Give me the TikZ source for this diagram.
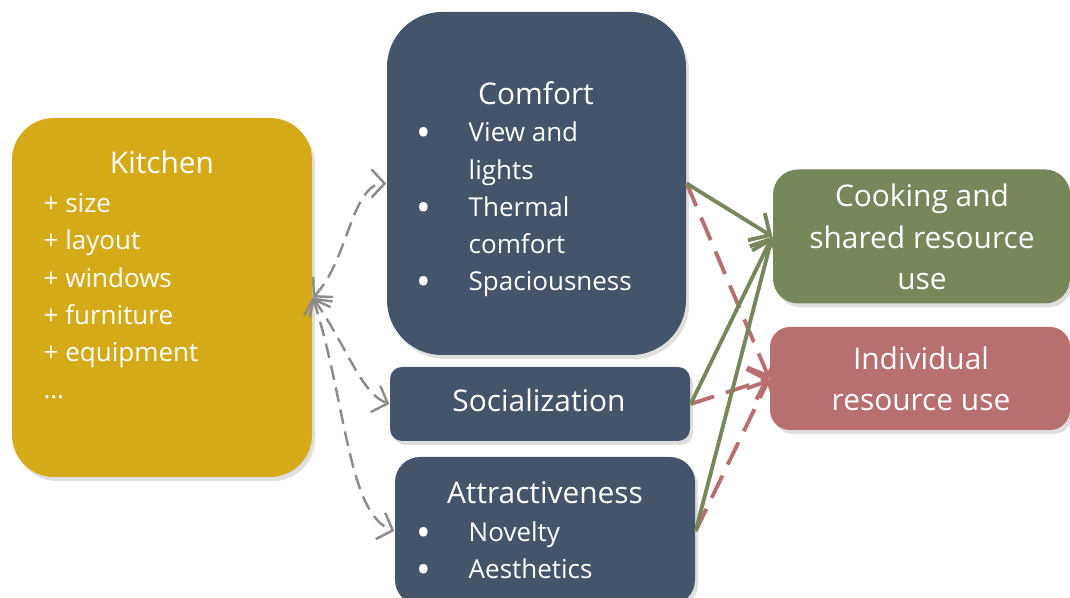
\documentclass[tikz,border=0pt]{standalone}
\usepackage{fontspec}
\setmainfont{Open Sans}
\usetikzlibrary{arrows.meta,shadows}
\definecolor{kitchengold}{RGB}{213,170,24}
\definecolor{slateblue}{RGB}{68,84,106}
\definecolor{olivegreen}{RGB}{118,135,90}
\definecolor{rosered}{RGB}{184,112,110}
\definecolor{dashgray}{RGB}{140,140,140}
\newcommand{\headsize}{\fontsize{8.5}{11.9}\selectfont}
\newcommand{\itemsize}{\fontsize{7.4}{10.6}\selectfont}
\newcommand{\bul}{\makebox[0.50cm][l]{\hspace*{-0.02cm}\raisebox{-0.35ex}{\scalebox{1.5}{\textbullet}}}}
\newcommand{\nobul}{\hspace*{0.50cm}}
\tikzset{
  panel/.style={rectangle, rounded corners=#1, inner sep=0pt,
    drop shadow={shadow xshift=0.03cm, shadow yshift=-0.04cm, opacity=0.25}},
  heading/.style={text=white, font=\headsize, inner sep=0pt, align=center},
  items/.style={text=white, font=\itemsize, inner sep=0pt, align=left},
  link/.style={dashgray, line width=0.7pt, dash pattern=on 4.2pt off 2.2pt,
    {Straight Barb[length=1.3mm,width=2.8mm]}-{Straight Barb[length=1.3mm,width=2.8mm]}},
  shared/.style={olivegreen, line width=1.1pt, -{Straight Barb[length=1.6mm,width=3.2mm]}},
  single/.style={rosered, line width=1.1pt, dash pattern=on 7pt off 3.5pt,
    -{Straight Barb[length=1.6mm,width=3.2mm]}}
}
\begin{document}
\begin{tikzpicture}
  \useasboundingbox (0,0) rectangle (10.70,5.98);
  % boxes
  \node[panel=0.42cm, fill=kitchengold, minimum width=3.00cm, minimum height=3.59cm] (kitchen) at (1.62,3.005) {};
  \node[panel=0.55cm, fill=slateblue, minimum width=2.99cm, minimum height=3.43cm] (comfort) at (5.365,4.145) {};
  \node[panel=0.12cm, fill=slateblue, minimum width=3.00cm, minimum height=0.74cm] (social) at (5.40,1.94) {};
  \node[panel=0.25cm, fill=slateblue, minimum width=3.00cm, minimum height=1.48cm] (attract) at (5.45,0.67) {};
  \node[panel=0.25cm, fill=olivegreen, minimum width=2.97cm, minimum height=1.34cm] (cooking) at (9.215,3.615) {};
  \node[panel=0.20cm, fill=rosered, minimum width=3.00cm, minimum height=1.03cm] (individual) at (9.20,2.195) {};
  % texts (base = last line)
  \node[heading, anchor=base] (kitchenhead) at (1.62,4.24) {Kitchen};
  \node[items, anchor=base west] (kitchenlist) at (0.43,1.99) {+ size\\+ layout\\+ windows\\+ furniture\\+ equipment\\…};
  \node[heading, anchor=base] (comforthead) at (5.36,4.93) {Comfort};
  \node[items, anchor=base west] (comfortlist) at (4.18,3.07) {\bul View and\\\nobul lights\\\bul Thermal\\\nobul comfort\\\bul Spaciousness};
  \node[heading, anchor=base] (socialtext) at (5.39,1.86) {Socialization};
  \node[heading, anchor=base] (attracthead) at (5.45,0.94) {Attractiveness};
  \node[items, anchor=base west] (attractlist) at (4.18,0.19) {\bul Novelty\\\bul Aesthetics};
  \node[heading, anchor=base] (cookingtext) at (9.22,3.08) {Cooking and\\shared resource\\use};
  \node[heading, anchor=base] (individualtext) at (9.21,1.87) {Individual\\resource use};
  % kitchen to factors
  \draw[link] (kitchen.east) to[out=45,in=180,out distance=0.5cm,in distance=0.35cm] (comfort.west);
  \draw[link] (kitchen.east) to[out=-55,in=160,out distance=0.6cm,in distance=0.3cm] (social.west);
  \draw[link] (kitchen.east) to[out=-72,in=160,out distance=1.1cm,in distance=0.5cm] (attract.west);
  % factors to resource use
  \draw[single] (comfort.east) -- (individual.west);
  \draw[single] (social.east) -- (individual.west);
  \draw[single] (attract.east) -- (individual.west);
  \draw[shared] (comfort.east) -- (cooking.west);
  \draw[shared] (social.east) -- (cooking.west);
  \draw[shared] (attract.east) -- (cooking.west);
\end{tikzpicture}
\end{document}
